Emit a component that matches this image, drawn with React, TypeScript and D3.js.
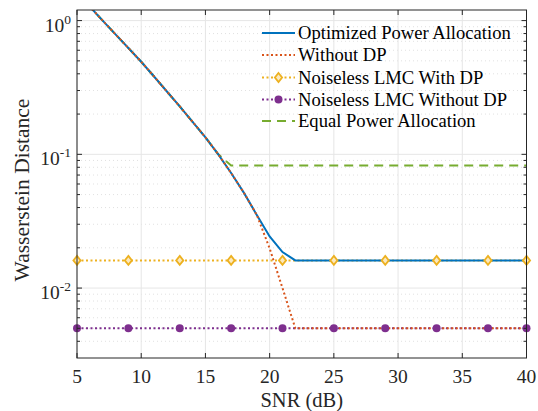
import React from "react";
import * as d3 from "d3";

// SNR grid (dB)
const snr = d3.range(5, 41);

// curve values, SNR 5..22, then the floor
const optimizedHead = [1.62, 1.27, 1.0, 0.789, 0.624, 0.492, 0.382, 0.295, 0.228, 0.175, 0.134, 0.1, 0.0725, 0.0515, 0.0352, 0.0243, 0.0186];
const withDpFloor = 0.0161;
const withoutDpHead = [1.62, 1.27, 1.0, 0.789, 0.624, 0.492, 0.382, 0.295, 0.228, 0.175, 0.134, 0.1, 0.0725, 0.0515, 0.0352, 0.0198, 0.0100];
const withoutDpFloor = 0.005;
const equalHead = [1.62, 1.27, 1.0, 0.789, 0.624, 0.492, 0.382, 0.295, 0.228, 0.175, 0.134, 0.1];
const equalFloor = 0.0825;

const optimized = snr.map((s, i) => (i < optimizedHead.length ? optimizedHead[i] : withDpFloor));
const withoutDp = snr.map((s, i) => (i < withoutDpHead.length ? withoutDpHead[i] : withoutDpFloor));
const equalPower = snr.map((s, i) => (i < equalHead.length ? equalHead[i] : equalFloor));
const noiselessDp = snr.map(() => withDpFloor);
const noiselessNoDp = snr.map(() => withoutDpFloor);

const markerSnr = [5, 9, 13, 17, 21, 25, 29, 33, 37, 40];
const xTicks = [5, 10, 15, 20, 25, 30, 35, 40];
const yTicks = [1, 0.1, 0.01];
const yTickExp = ["0", "-1", "-2"];

const legendNames = [
  "Optimized Power Allocation",
  "Without DP",
  "Noiseless LMC With DP",
  "Noiseless LMC Without DP",
  "Equal Power Allocation",
];

const blue = "#0072BD";
const orange = "#D95319";
const yellow = "#EDB120";
const purple = "#7E2F8E";
const green = "#77AC30";
const axisCol = "#262626";
const serif = { fontFamily: '"Liberation Serif", serif' };

export default function App() {
  const width = 538;
  const height = 411;
  const m = { left: 77, right: 11.5, top: 10, bottom: 53 };
  const x = d3.scaleLinear().domain([5, 40]).range([m.left, width - m.right]);
  const y = d3.scaleLog().domain([0.003, 1.2]).range([height - m.bottom, m.top]);
  const [x0, x1] = x.range();
  const [y0, y1] = y.range();

  const mk = (vals: number[]) =>
    d3
      .line<number>()
      .x((_, i) => x(snr[i]))
      .y((d) => y(d))(vals) || "";

  // minor ticks 2..9 per decade
  const minor: number[] = [];
  [0.001, 0.01, 0.1, 1].forEach((dec) => {
    for (let k = 2; k <= 9; k++) {
      const v = dec * k;
      if (v > 0.003 && v < 1.2) minor.push(v);
    }
  });

  const diamond = (cx: number, cy: number, r = 4.5) =>
    `M${cx},${cy - r}L${cx + r * 0.8},${cy}L${cx},${cy + r}L${cx - r * 0.8},${cy}Z`;

  const legX = 262;
  const legTextX = 298;
  const legY = [33, 55, 77.5, 99.5, 121];

  return (
    <div style={{ position: "absolute", left: 0, top: 0 }}>
      <svg width={width} height={height} style={{ display: "block", background: "#fff", ...serif }}>
        <defs>
          <clipPath id="plot">
            <rect x={x0} y={y1} width={x1 - x0} height={y0 - y1} />
          </clipPath>
        </defs>
        {/* grid */}
        {minor.map((v) => (
          <line key={"mg" + v} x1={x0} x2={x1} y1={y(v)} y2={y(v)} stroke="#d9d9d9" strokeWidth={0.8} strokeDasharray="1,3" />
        ))}
        {yTicks.map((v) => (
          <line key={"gy" + v} x1={x0} x2={x1} y1={y(v)} y2={y(v)} stroke="#e6e6e6" strokeWidth={1} />
        ))}
        {xTicks.map((v) => (
          <line key={"gx" + v} x1={x(v)} x2={x(v)} y1={y1} y2={y0} stroke="#e6e6e6" strokeWidth={1} />
        ))}

        {/* series */}
        <g clipPath="url(#plot)" fill="none">
          <path d={mk(noiselessNoDp)} stroke={purple} strokeWidth={2} strokeDasharray="2,2.5" />
          <path d={mk(noiselessDp)} stroke={yellow} strokeWidth={2} strokeDasharray="2,2.5" />
          <path d={mk(equalPower)} stroke={green} strokeWidth={2} strokeDasharray="9,6" />
          <path d={mk(optimized)} stroke={blue} strokeWidth={2} />
          <path d={mk(withoutDp)} stroke={orange} strokeWidth={2} strokeDasharray="2,2.5" />
        </g>
        <g>
          {markerSnr.map((s) => (
            <path key={"d" + s} d={diamond(x(s), y(withDpFloor))} fill="#fbe9bf" stroke={yellow} strokeWidth={1.8} />
          ))}
          {markerSnr.map((s) => (
            <circle key={"c" + s} cx={x(s)} cy={y(withoutDpFloor)} r={4} fill={purple} />
          ))}
        </g>

        {/* axes box and ticks */}
        <rect x={x0} y={y1} width={x1 - x0} height={y0 - y1} fill="none" stroke={axisCol} strokeWidth={1} />
        {xTicks.map((v) => (
          <g key={"xt" + v}>
            <line x1={x(v)} x2={x(v)} y1={y0} y2={y0 - 5} stroke={axisCol} />
            <line x1={x(v)} x2={x(v)} y1={y1} y2={y1 + 5} stroke={axisCol} />
            <text x={x(v)} y={382.5} textAnchor="middle" fontSize={19.5} fill={axisCol} style={serif}>
              {v}
            </text>
          </g>
        ))}
        {yTicks.map((v, i) => (
          <g key={"yt" + v}>
            <line x1={x0} x2={x0 + 5} y1={y(v)} y2={y(v)} stroke={axisCol} />
            <line x1={x1} x2={x1 - 5} y1={y(v)} y2={y(v)} stroke={axisCol} />
            <text x={71} y={y(v) + 11} textAnchor="end" fontSize={19.5} fill={axisCol} style={serif}>
              <tspan>10</tspan>
              <tspan dy={-8} fontSize={13.5}>
                {yTickExp[i]}
              </tspan>
            </text>
          </g>
        ))}
        {minor.map((v) => (
          <g key={"ym" + v}>
            <line x1={x0} x2={x0 + 3} y1={y(v)} y2={y(v)} stroke={axisCol} />
            <line x1={x1} x2={x1 - 3} y1={y(v)} y2={y(v)} stroke={axisCol} />
          </g>
        ))}

        {/* axis labels */}
        <text x={(x0 + x1) / 2} y={407} textAnchor="middle" fontSize={20.5} fill={axisCol} style={serif}>
          SNR (dB)
        </text>
        <text
          transform={`translate(29,${(y0 + y1) / 2 + 6}) rotate(-90)`}
          textAnchor="middle"
          fontSize={21.5}
          fill={axisCol}
          style={serif}
        >
          Wasserstein Distance
        </text>

        {/* legend */}
        <g>
          <line x1={legX} x2={legX + 33} y1={legY[0]} y2={legY[0]} stroke={blue} strokeWidth={2} />
          <line x1={legX} x2={legX + 33} y1={legY[1]} y2={legY[1]} stroke={orange} strokeWidth={2} strokeDasharray="2,2.5" />
          <line x1={legX} x2={legX + 33} y1={legY[2]} y2={legY[2]} stroke={yellow} strokeWidth={2} strokeDasharray="2,2.5" />
          <path d={diamond(legX + 16.5, legY[2])} fill="#fbe9bf" stroke={yellow} strokeWidth={1.8} />
          <line x1={legX} x2={legX + 33} y1={legY[3]} y2={legY[3]} stroke={purple} strokeWidth={2} strokeDasharray="2,2.5" />
          <circle cx={legX + 16.5} cy={legY[3]} r={4} fill={purple} />
          <line x1={legX} x2={legX + 33} y1={legY[4]} y2={legY[4]} stroke={green} strokeWidth={2} strokeDasharray="9,6" />
          {legendNames.map((n, i) => (
            <text key={n} x={legTextX} y={legY[i] + 6} fontSize={18.6} fill="#000" style={serif}>
              {n}
            </text>
          ))}
        </g>
      </svg>
    </div>
  );
}
